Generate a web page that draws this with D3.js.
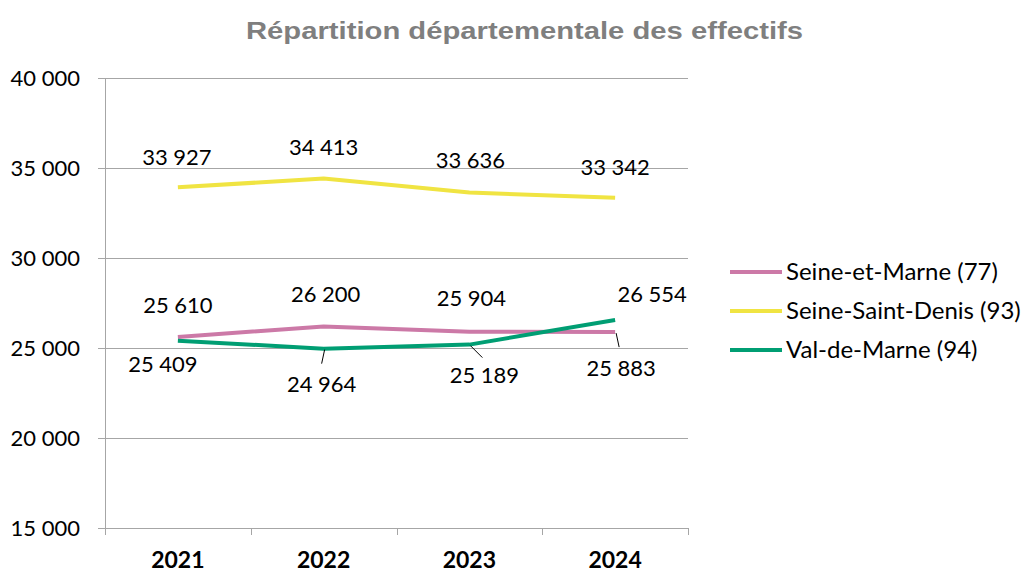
<!DOCTYPE html>
<html>
<head>
<meta charset="utf-8">
<script src="https://cdn.jsdelivr.net/npm/d3@7"></script>
<style>
  body { margin: 0; background: #fff; }
  svg { display: block; }
</style>
</head>
<body>
<svg id="chart"></svg>
<script>
// Data
const years = ["2021", "2022", "2023", "2024"];
const seriesNames = ["Seine-et-Marne (77)", "Seine-Saint-Denis (93)", "Val-de-Marne (94)"];
const seineEtMarne = [25610, 26200, 25904, 25883];
const seineSaintDenis = [33927, 34413, 33636, 33342];
const valDeMarne = [25409, 24964, 25189, 26554];
const yTicks = [15000, 20000, 25000, 30000, 35000, 40000];

const colors = ["#cc79a7", "#f0e442", "#009e73"];

// label placement (offset from point), and optional leader line end
const labelLayout = [
  [{ dx: 0, dy: -32 }, { dx: 2, dy: -32 }, { dx: 2, dy: -33 }, { dx: 6, dy: 36, leader: [4, 15] }],
  [{ dx: -1, dy: -30 }, { dx: 0, dy: -31 }, { dx: 1, dy: -32 }, { dx: 0, dy: -31 }],
  [{ dx: -15, dy: 24 }, { dx: -2, dy: 36, leader: [-2, 15] }, { dx: 15, dy: 31, leader: [13, 13] }, { dx: 37, dy: -26 }],
];

const series = [seineEtMarne, seineSaintDenis, valDeMarne].map((values, i) => ({
  name: seriesNames[i],
  color: colors[i],
  values: values.map((v, j) => ({ year: years[j], value: v })),
}));

const W = 1026, H = 573;
const margin = { top: 78, right: 338, bottom: 45, left: 105 };
const width = W - margin.left - margin.right;
const height = H - margin.top - margin.bottom;

const fmt = (v) => d3.format(",")(v).replace(/,/g, " ");
const font = "Lato, 'Open Sans', sans-serif";

const svg = d3.select("#chart").attr("width", W).attr("height", H);

// title (stretched to the reference width)
svg.append("text")
  .attr("x", 246)
  .attr("y", 39)
  .attr("textLength", 557)
  .attr("lengthAdjust", "spacingAndGlyphs")
  .style("font-family", "'Liberation Sans', Arial, sans-serif")
  .style("font-weight", "bold")
  .style("font-size", "24px")
  .style("fill", "#7f7f7f")
  .text("Répartition départementale des effectifs");

const g = svg.append("g").attr("transform", `translate(${margin.left},${margin.top})`);

const x = d3.scaleBand().domain(years).range([0, width]).padding(0);
const y = d3.scaleLinear().domain([15000, 40000]).range([height, 0]);

// gridlines
g.append("g")
  .selectAll("line")
  .data(yTicks)
  .enter()
  .append("line")
  .attr("x1", -7)
  .attr("x2", width)
  .attr("y1", (d) => Math.round(y(d)) + 0.5)
  .attr("y2", (d) => Math.round(y(d)) + 0.5)
  .attr("stroke", "#a6a6a6")
  .attr("stroke-width", 1);

// y axis line
g.append("line")
  .attr("x1", 0.5).attr("x2", 0.5)
  .attr("y1", 0).attr("y2", height)
  .attr("stroke", "#a6a6a6");

// y labels
g.append("g")
  .selectAll("text")
  .data(yTicks)
  .enter()
  .append("text")
  .attr("x", -25)
  .attr("y", (d) => y(d))
  .attr("dy", "0.35em")
  .attr("text-anchor", "end")
  .style("font-family", font)
  .style("font-size", "22px")
  .style("fill", "#000")
  .text(fmt);

// x tick marks at band edges
const edges = years.map((d) => x(d)).concat([width]);
g.append("g")
  .selectAll("line")
  .data(edges)
  .enter()
  .append("line")
  .attr("x1", (d) => Math.round(d) + 0.5)
  .attr("x2", (d) => Math.round(d) + 0.5)
  .attr("y1", height)
  .attr("y2", height + 7)
  .attr("stroke", "#a6a6a6");

// x labels
const xAxis = g.append("g")
  .attr("transform", `translate(0,${height})`)
  .call(d3.axisBottom(x).tickSize(0).tickPadding(24));
xAxis.select(".domain").remove();
xAxis.selectAll("text")
  .style("font-family", font)
  .style("font-size", "23px")
  .style("font-weight", "bold")
  .style("fill", "#000");

const cx = (d) => x(d.year) + x.bandwidth() / 2;

const line = d3.line()
  .x(cx)
  .y((d) => y(d.value));

series.forEach((s) => {
  g.append("path")
    .datum(s.values)
    .attr("fill", "none")
    .attr("stroke", s.color)
    .attr("stroke-width", 4)
    .attr("stroke-linejoin", "round")
    .attr("d", line);
});

// data labels and leader lines
series.forEach((s, i) => {
  s.values.forEach((d, j) => {
    const p = labelLayout[i][j];
    const px = cx(d), py = y(d.value);
    if (p.leader) {
      g.append("line")
        .attr("x1", px + 1)
        .attr("y1", py + 1)
        .attr("x2", px + p.leader[0])
        .attr("y2", py + p.leader[1])
        .attr("stroke", "#000")
        .attr("stroke-width", 1);
    }
    g.append("text")
      .attr("x", px + p.dx)
      .attr("y", py + p.dy)
      .attr("dy", "0.35em")
      .attr("text-anchor", "middle")
      .style("font-family", font)
      .style("font-size", "22px")
      .style("fill", "#000")
      .text(fmt(d.value));
  });
});

// legend
const legend = svg.append("g").attr("transform", "translate(730,272)");
series.forEach((s, i) => {
  const row = legend.append("g").attr("transform", `translate(0,${i * 39})`);
  row.append("line")
    .attr("x1", 0).attr("x2", 52)
    .attr("y1", 0).attr("y2", 0)
    .attr("stroke", s.color)
    .attr("stroke-width", 4);
  row.append("text")
    .attr("x", 56)
    .attr("y", 0)
    .attr("dy", "0.35em")
    .style("font-family", font)
    .style("font-size", "24px")
    .style("fill", "#000")
    .text(s.name);
});
</script>
</body>
</html>
